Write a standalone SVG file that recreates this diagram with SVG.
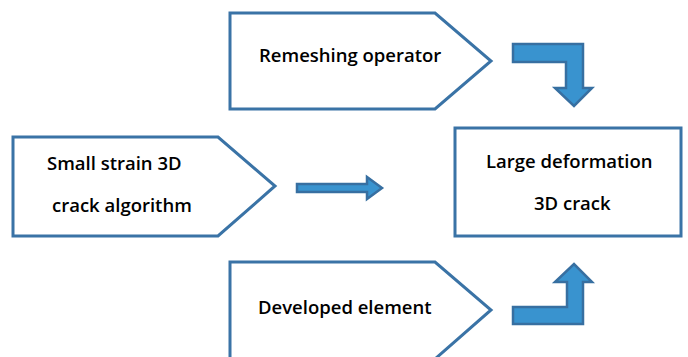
<svg xmlns="http://www.w3.org/2000/svg" width="688" height="357" viewBox="0 0 688 357">
  <style>
    .shape { fill: #ffffff; stroke: #3a73a6; stroke-width: 3; stroke-linejoin: miter; }
    .arrow { fill: #3993cf; stroke: #376fa1; stroke-width: 2.5; stroke-linejoin: miter; }
    .label { font-family: "Open Sans", "Noto Sans", sans-serif; font-weight: 600; font-size: 18.5px; fill: #000000; }
  </style>

  <g id="remeshing-operator">
    <polygon class="shape" points="230,13 435,13 491,61 435,109 230,109"/>
    <text class="label" x="259" y="62">Remeshing operator</text>
  </g>

  <g id="small-strain-crack">
    <polygon class="shape" points="13,137 218,137 275,186 218,236 13,236"/>
    <text class="label" x="47" y="170">Small strain 3D</text>
    <text class="label" x="52" y="212">crack algorithm</text>
  </g>

  <g id="large-deformation-crack">
    <rect class="shape" x="455" y="128" width="226" height="108"/>
    <text class="label" x="486" y="168">Large deformation</text>
    <text class="label" x="534" y="210">3D crack</text>
  </g>

  <g id="developed-element">
    <polygon class="shape" points="230,262 435,262 491,310 435,359 230,359"/>
    <text class="label" x="258" y="314">Developed element</text>
  </g>

  <g id="connectors">
    <!-- bent arrow down into the result box -->
    <polygon class="arrow" points="513,44 583,44 583,88 592,88 574,106 555,88 566,88 566,62 513,62"/>
    <!-- straight arrow towards the result box -->
    <polygon class="arrow" points="297,184 367,184 367,177 382,188 367,199 367,192 297,192"/>
    <!-- bent arrow up into the result box -->
    <polygon class="arrow" points="513,324 583,324 583,282 592,282 574,264 555,282 567,282 567,307 513,307"/>
  </g>
</svg>
